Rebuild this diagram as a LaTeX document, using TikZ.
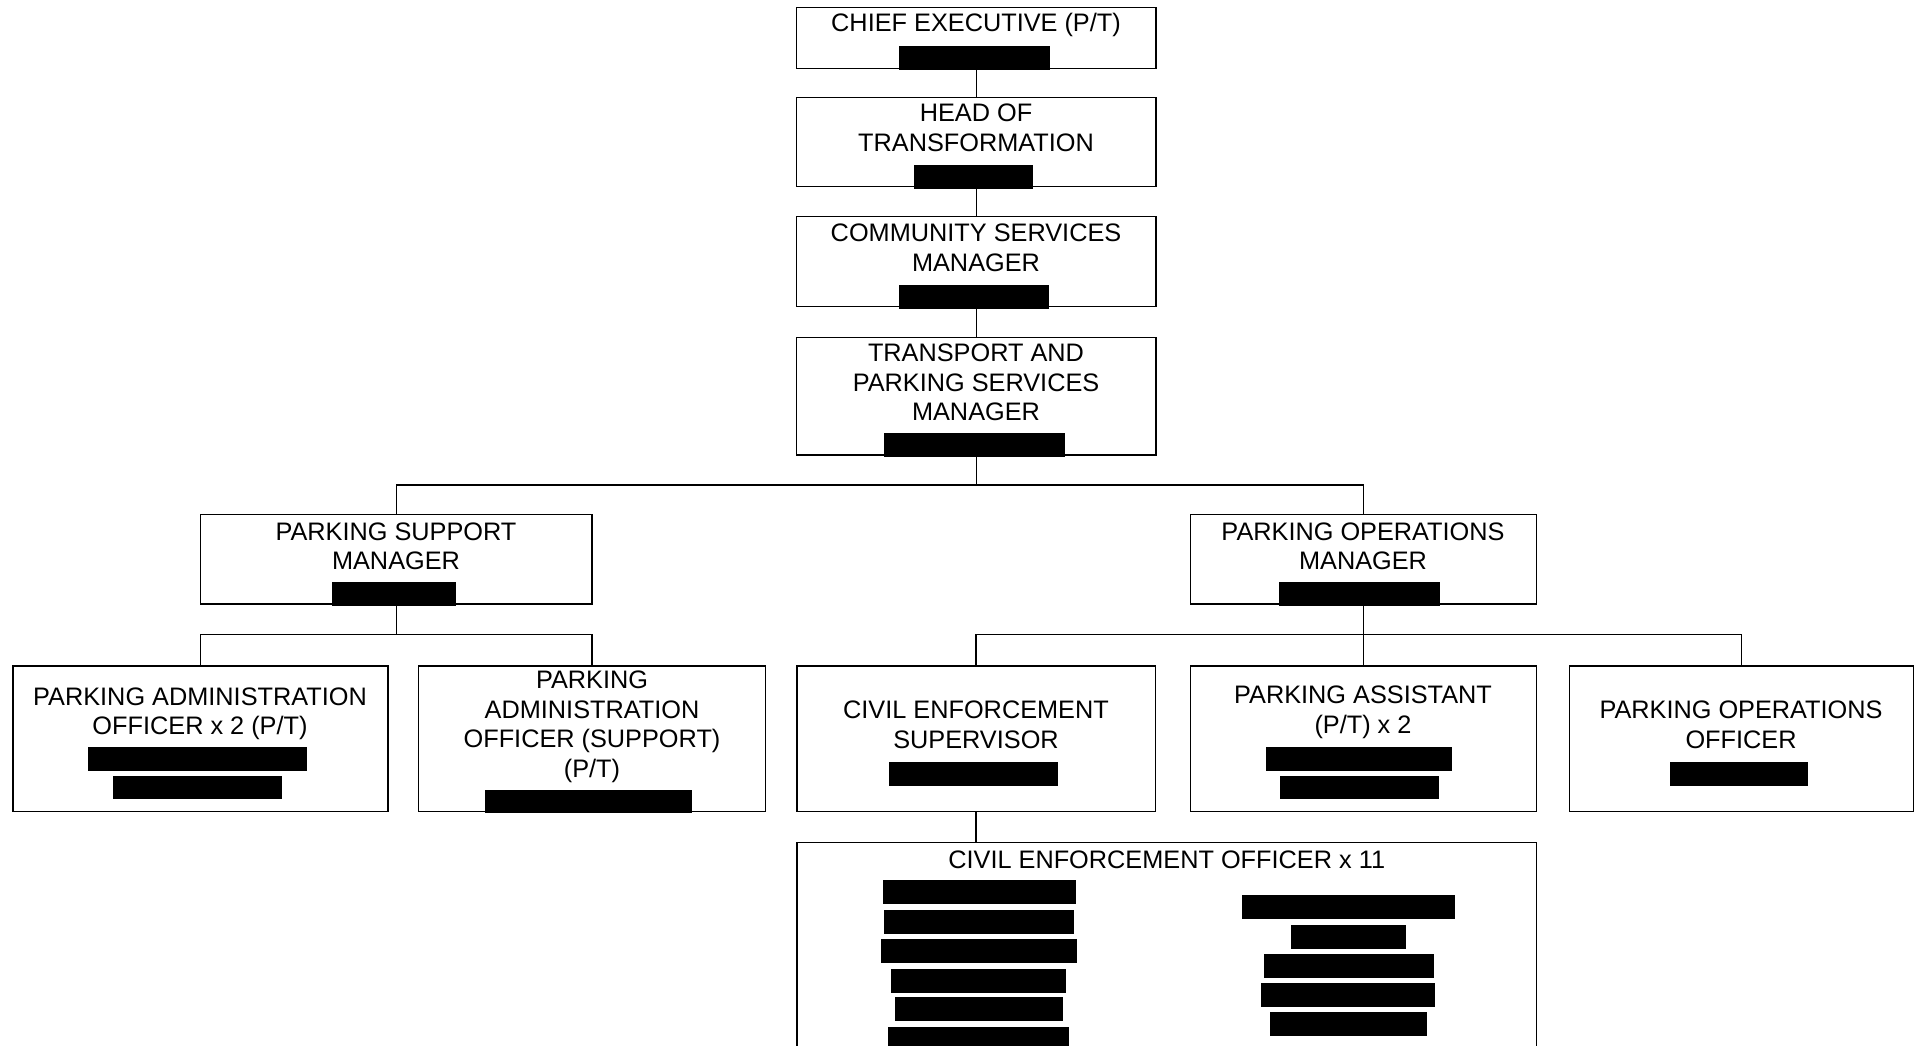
\documentclass[tikz,border=0pt]{standalone}
\usepackage{fontspec}
\setmainfont{Liberation Sans}
\newcommand\tstrut{\rule{0pt}{20pt}}
\tikzset{
  box/.style={draw, line width=1.5pt, inner sep=0pt, outer sep=0pt, rectangle},
  lbl/.style={anchor=north, align=center, inner sep=0pt, font=\fontsize{25.3}{29.5}\selectfont},
  conn/.style={line width=1.5pt}
}
\newcommand\bx[5]{\node[box, minimum width={#4-#2}, minimum height={#5-#3}] (#1) at ({(#2+#4)/2},{(#3+#5)/2}) {};}
\newcommand\tx[4]{\node[lbl] (#1) at (#2,#3) {\tstrut #4};}
\newcommand\rd[4]{\fill[black] (#1,#2) rectangle (#3,#4);}
\begin{document}
\begin{tikzpicture}[x=1pt,y=-1pt]
\useasboundingbox[fill=white] (0,0) rectangle (1923,1046);
% boxes
\bx{ce}{796.5}{7.3}{1156}{68.3}
\bx{head}{796.5}{97.7}{1156}{186.7}
\bx{comm}{796.5}{216.7}{1156}{306.7}
\bx{trans}{796.5}{337.3}{1156}{455}
\bx{psm}{200.5}{514.3}{592}{604}
\bx{pom}{1190.3}{514.3}{1536.6}{604}
\bx{pao}{12.8}{666}{387.8}{811.7}
\bx{paos}{418.4}{666}{765.3}{811.7}
\bx{ces}{796.8}{666}{1155.4}{811.7}
\bx{pa}{1190.3}{666}{1536.6}{811.7}
\bx{poo}{1569.4}{666}{1913.3}{811.7}
\bx{ceo}{796.8}{842.7}{1536.6}{1070}
% junctions
\coordinate (j1) at (977,485);
\coordinate (j2) at (397,634.3);
\coordinate (j3) at (977,634.3);
% connectors
\draw[conn] (ce.south) -- (head.north);
\draw[conn] (head.south) -- (comm.north);
\draw[conn] (comm.south) -- (trans.north);
\draw[conn] (trans.south) -- (trans.south |- j1);
\draw[conn] (psm.north) |- (pom.north |- j1) -- (pom.north);
\draw[conn] (psm.south) -- (psm.south |- j2);
\draw[conn] (pao.north) |- (paos.north |- j2) -- (paos.north);
\draw[conn] (pom.south) -- (pom.south |- j3);
\draw[conn] (ces.north) |- (poo.north |- j3) -- (poo.north);
\draw[conn] (pa.north) -- (pa.north |- j3);
\draw[conn] (ces.south) -- (ces.south |- ceo.north);
% texts
\tx{tce}{976}{11.7}{CHIEF EXECUTIVE (P/T)}
\tx{thead}{976}{101.7}{HEAD OF\\TRANSFORMATION}
\tx{tcomm}{976}{221.7}{COMMUNITY SERVICES\\MANAGER}
\tx{ttrans}{976}{341.7}{TRANSPORT AND\\PARKING SERVICES\\MANAGER}
\tx{tpsm}{396}{520}{PARKING SUPPORT\\MANAGER}
\tx{tpom}{1363}{520}{PARKING OPERATIONS\\MANAGER}
\tx{tpao}{200}{685}{PARKING ADMINISTRATION\\OFFICER x 2 (P/T)}
\tx{tpaos}{592}{668.3}{PARKING\\ADMINISTRATION\\OFFICER (SUPPORT)\\(P/T)}
\tx{tces}{976}{698.3}{CIVIL ENFORCEMENT\\SUPERVISOR}
\tx{tpa}{1363}{683.3}{PARKING ASSISTANT\\(P/T) x 2}
\tx{tpoo}{1741}{698.3}{PARKING OPERATIONS\\OFFICER}
\tx{tceo}{1166.7}{848.3}{CIVIL ENFORCEMENT OFFICER x 11}
% redaction bars
\rd{899}{46}{1050}{69.7}
\rd{914}{165}{1032.7}{188.7}
\rd{899}{285}{1049}{309}
\rd{884.3}{433.3}{1065}{456.7}
\rd{331.6}{582}{455.6}{605.7}
\rd{1279.3}{582}{1439.6}{605.7}
\rd{87.8}{747.3}{307}{770.7}
\rd{112.8}{776}{281.6}{799.3}
\rd{485.2}{790}{692.3}{813.3}
\rd{889.3}{762}{1057.7}{785.7}
\rd{1266.2}{747.3}{1452}{770.7}
\rd{1280}{776}{1438.9}{799.3}
\rd{1670}{762}{1807.7}{785.7}
\rd{883}{880.3}{1076}{903.7}
\rd{884}{910}{1073.9}{933.7}
\rd{881}{939}{1077}{962.7}
\rd{891.2}{969}{1066.2}{992.7}
\rd{894.8}{997}{1063.2}{1020.7}
\rd{888.2}{1027}{1068.8}{1050}
\rd{1242.2}{895}{1455}{918.7}
\rd{1291.2}{925}{1406}{948.7}
\rd{1264.2}{954}{1434}{977.7}
\rd{1261}{983}{1435}{1006.7}
\rd{1269.8}{1012}{1427}{1035.7}
\end{tikzpicture}
\end{document}
